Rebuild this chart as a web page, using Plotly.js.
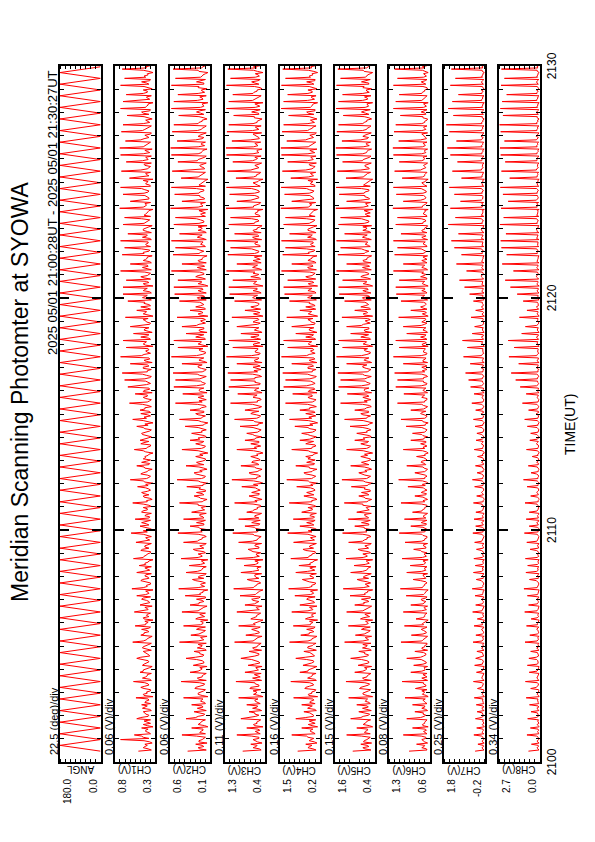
<!DOCTYPE html>
<html>
<head>
<meta charset="utf-8">
<script src="https://cdn.plot.ly/plotly-3.0.1.min.js"></script>
<style>
  html, body { margin: 0; padding: 0; background: #fff; width: 595px; height: 842px; overflow: hidden; }
  /* the chart is laid out as a landscape sheet and turned a quarter turn counter-clockwise */
  #chart { position: absolute; left: 0; top: 0; width: 842px; height: 595px;
           transform-origin: 0 0; transform: translate(0, 842px) rotate(-90deg); }
</style>
</head>
<body>
<div id="chart"></div>
<script>
// ---- sampling: first record 21:00:28 UT ----
const T0_SEC = 28;          // seconds after 21:00 UT
const CH_STEP_SEC = 6;      // interval of the scan-synchronous samples
const MID_OFFSET_SEC = 3;   // in-between samples fall halfway
const ANGL_STEP_SEC = 15;   // scan turning points

// ---- panel setup ----
const panelNames = ['ANGL', 'CH1(V)', 'CH2(V)', 'CH3(V)', 'CH4(V)', 'CH5(V)', 'CH6(V)', 'CH7(V)', 'CH8(V)'];
const axisMin = [0.0, 0.3, 0.1, 0.4, 0.2, 0.4, 0.6, -0.2, 0.0];
const axisMax = [180.0, 0.8, 0.6, 1.3, 1.5, 1.6, 1.3, 1.8, 2.7];
const minLabels = ['0.0', '0.3', '0.1', '0.4', '0.2', '0.4', '0.6', '-0.2', '0.0'];
const maxLabels = ['180.0', '0.8', '0.6', '1.3', '1.5', '1.6', '1.3', '1.8', '2.7'];
const perDivLabels = ['22.5 (deg)/div', '0.06 (V)/div', '0.06 (V)/div', '0.11 (V)/div', '0.16 (V)/div',
                      '0.15 (V)/div', '0.08 (V)/div', '0.25 (V)/div', '0.34 (V)/div'];
const timeTicks = [0, 10, 20, 30];
const timeTickLabels = ['2100', '2110', '2120', '2130'];
const titleText = 'Meridian Scanning Photomter at SYOWA';
const periodText = '2025 05/01 21:00:28UT - 2025 05/01 21:30:27UT';
const timeAxisTitle = 'TIME(UT)';

// ---- scanner angle (deg) at turning points ----
const ANGL = [0,180,0,180,0,180,0,180,0,180,0,180,0,180,0,180,0,180,0,180,
  0,180,0,180,0,180,0,180,0,180,0,180,0,180,0,180,0,180,0,180,
  0,180,0,180,0,180,0,180,0,180,0,180,0,180,0,180,0,180,0,180,
  0,180,0,180,0,180,0,180,0,180,0,180,0,180,0,180,0,180,0,180,
  0,180,0,180,0,180,0,180,0,180,0,180,0,180,0,180,0,180,0,180,
  0,180,0,180,0,180,0,180,0,180,0,180,0,180,0,180,0,180,0];

// ---- channel outputs (V), scan-synchronous samples, one row = 2 min ----
const CH1 = [
.51,.39,.43,.43,.37,.73,.45,.56,.38,.42,.47,.40,.36,.44,.53,.39,.42,.45,.37,.43,
.47,.43,.38,.54,.44,.40,.36,.44,.43,.39,.57,.37,.42,.40,.49,.45,.37,.46,.41,.39,
.53,.37,.41,.45,.40,.45,.38,.58,.41,.37,.48,.44,.40,.38,.55,.42,.43,.44,.38,.40,
.56,.39,.43,.49,.37,.41,.45,.53,.38,.42,.59,.40,.36,.44,.46,.39,.42,.53,.37,.43,
.50,.43,.38,.57,.44,.40,.36,.46,.43,.39,.54,.37,.42,.40,.60,.45,.37,.49,.41,.39,
.55,.37,.41,.47,.40,.45,.38,.58,.41,.37,.45,.44,.40,.38,.52,.42,.43,.61,.38,.40,
.45,.39,.43,.53,.37,.41,.45,.43,.38,.42,.56,.40,.36,.44,.49,.39,.42,.47,.37,.43,
.53,.43,.38,.58,.44,.40,.36,.49,.43,.39,.62,.37,.42,.40,.55,.45,.37,.64,.41,.39,
.68,.37,.41,.71,.40,.45,.38,.61,.41,.37,.73,.44,.40,.38,.66,.42,.43,.70,.38,.40,
.57,.39,.43,.61,.37,.41,.45,.67,.38,.42,.53,.40,.36,.44,.64,.39,.42,.70,.37,.43,
.70,.43,.38,.66,.44,.40,.36,.73,.43,.39,.61,.37,.42,.40,.71,.45,.37,.68,.41,.39,
.73,.37,.41,.64,.40,.45,.38,.70,.41,.37,.68,.44,.40,.38,.74,.42,.43,.61,.38,.40,
.70,.39,.43,.73,.37,.41,.45,.62,.38,.42,.72,.40,.36,.44,.66,.39,.42,.73,.37,.43,
.74,.43,.38,.67,.44,.40,.36,.72,.43,.39,.70,.37,.42,.40,.65,.45,.37,.73,.41,.39,
.70,.37,.41,.66,.40,.45,.38,.73,.41,.37,.68,.44,.40,.38,.71,.42];
const CH2 = [
.38,.23,.18,.28,.24,.20,.16,.45,.23,.19,.33,.17,.22,.20,.40,.25,.17,.30,.21,.19,
.33,.17,.21,.43,.20,.25,.18,.29,.21,.17,.46,.24,.20,.18,.35,.22,.23,.31,.18,.20,
.40,.19,.23,.30,.17,.21,.25,.48,.18,.22,.34,.20,.16,.24,.43,.19,.22,.28,.17,.23,
.45,.23,.18,.35,.24,.20,.16,.41,.23,.19,.49,.17,.22,.20,.32,.25,.17,.40,.21,.19,
.36,.17,.21,.46,.20,.25,.18,.31,.21,.17,.43,.24,.20,.18,.50,.22,.23,.35,.18,.20,
.43,.19,.23,.33,.17,.21,.25,.48,.18,.22,.30,.20,.16,.24,.39,.19,.22,.51,.17,.23,
.30,.23,.18,.40,.24,.20,.16,.28,.23,.19,.45,.17,.22,.20,.35,.25,.17,.33,.21,.19,
.41,.17,.21,.48,.20,.25,.18,.35,.21,.17,.53,.24,.20,.18,.44,.22,.23,.55,.18,.20,
.53,.19,.23,.56,.17,.21,.25,.45,.18,.22,.58,.20,.16,.24,.50,.19,.22,.55,.17,.23,
.40,.23,.18,.45,.24,.20,.16,.51,.23,.19,.35,.17,.22,.20,.48,.25,.17,.54,.21,.19,
.55,.17,.21,.50,.20,.25,.18,.58,.21,.17,.45,.24,.20,.18,.56,.22,.23,.53,.18,.20,
.58,.19,.23,.48,.17,.21,.25,.55,.18,.22,.53,.20,.16,.24,.59,.19,.22,.45,.17,.23,
.54,.23,.18,.58,.24,.20,.16,.46,.23,.19,.57,.17,.22,.20,.50,.25,.17,.58,.21,.19,
.59,.17,.21,.51,.20,.25,.18,.57,.21,.17,.55,.24,.20,.18,.49,.22,.23,.58,.18,.20,
.55,.19,.23,.50,.17,.21,.25,.58,.18,.22,.53,.20,.16,.24,.56,.19];
const CH3 = [
.90,.53,.60,.72,.57,.67,.54,1.03,.59,.52,.81,.64,.58,.54,.94,.61,.63,.76,.54,.58,
.81,.56,.63,.99,.53,.60,.67,.74,.54,.62,1.05,.58,.51,.64,.85,.55,.61,.78,.52,.63,
.94,.63,.54,.76,.65,.58,.51,1.08,.63,.56,.83,.53,.62,.57,.99,.66,.52,.72,.59,.55,
1.03,.53,.60,.85,.57,.67,.54,.96,.59,.52,1.10,.64,.58,.54,.80,.61,.63,.94,.54,.58,
.87,.56,.63,1.05,.53,.60,.67,.78,.54,.62,.99,.58,.51,.64,1.12,.55,.61,.85,.52,.63,
.99,.63,.54,.81,.65,.58,.51,1.08,.63,.56,.76,.53,.62,.57,.92,.66,.52,1.14,.59,.55,
.76,.53,.60,.94,.57,.67,.54,.72,.59,.52,1.03,.64,.58,.54,.85,.61,.63,.81,.54,.58,
.96,.56,.63,1.08,.53,.60,.67,.85,.54,.62,1.17,.58,.51,.64,1.01,.55,.61,1.21,.52,.63,
1.17,.63,.54,1.23,.65,.58,.51,1.03,.63,.56,1.26,.53,.62,.57,1.12,.66,.52,1.21,.59,.55,
.94,.53,.60,1.03,.57,.67,.54,1.14,.59,.52,.85,.64,.58,.54,1.08,.61,.63,1.19,.54,.58,
1.21,.56,.63,1.12,.53,.60,.67,1.26,.54,.62,1.03,.58,.51,.64,1.23,.55,.61,1.17,.52,.63,
1.26,.63,.54,1.08,.65,.58,.51,1.21,.63,.56,1.17,.53,.62,.57,1.27,.66,.52,1.03,.59,.55,
1.19,.53,.60,1.26,.57,.67,.54,1.05,.59,.52,1.24,.64,.58,.54,1.12,.61,.63,1.26,.54,.58,
1.27,.56,.63,1.14,.53,.60,.67,1.25,.54,.62,1.21,.58,.51,.64,1.10,.55,.61,1.26,.52,.63,
1.21,.63,.54,1.12,.65,.58,.51,1.26,.63,.56,1.17,.53,.62,.57,1.23,.66];
const CH4 = [
.92,.43,.54,.66,.38,.49,.59,1.11,.41,.51,.79,.46,.36,.55,.98,.42,.50,.72,.37,.53,
.79,.53,.40,1.05,.56,.46,.36,.69,.54,.43,1.14,.38,.51,.45,.85,.58,.37,.75,.47,.42,
.98,.38,.49,.72,.45,.59,.41,1.18,.47,.37,.82,.55,.46,.40,1.06,.50,.54,.67,.41,.46,
1.11,.43,.54,.85,.38,.49,.59,1.01,.41,.51,1.21,.46,.36,.55,.77,.42,.50,.98,.37,.53,
.88,.53,.40,1.14,.56,.46,.36,.75,.54,.43,1.05,.38,.51,.45,1.24,.58,.37,.85,.47,.42,
1.06,.38,.49,.79,.45,.59,.41,1.19,.47,.37,.72,.55,.46,.40,.95,.50,.54,1.27,.41,.46,
.72,.43,.54,.98,.38,.49,.59,.66,.41,.51,1.11,.46,.36,.55,.85,.42,.50,.79,.37,.53,
1.01,.53,.40,1.18,.56,.46,.36,.85,.54,.43,1.31,.38,.51,.45,1.08,.58,.37,1.37,.47,.42,
1.31,.38,.49,1.40,.45,.59,.41,1.11,.47,.37,1.44,.55,.46,.40,1.24,.50,.54,1.37,.41,.46,
.98,.43,.54,1.11,.38,.49,.59,1.27,.41,.51,.85,.46,.36,.55,1.18,.42,.50,1.34,.37,.53,
1.37,.53,.40,1.24,.56,.46,.36,1.44,.54,.43,1.11,.38,.51,.45,1.40,.58,.37,1.31,.47,.42,
1.44,.38,.49,1.18,.45,.59,.41,1.37,.47,.37,1.31,.55,.46,.40,1.46,.50,.54,1.11,.41,.46,
1.34,.43,.54,1.45,.38,.49,.59,1.14,.41,.51,1.41,.46,.36,.55,1.24,.42,.50,1.44,.37,.53,
1.46,.53,.40,1.27,.56,.46,.36,1.42,.54,.43,1.37,.38,.51,.45,1.21,.58,.37,1.45,.47,.42,
1.37,.38,.49,1.24,.45,.59,.41,1.44,.47,.37,1.31,.55,.46,.40,1.40,.50];
const CH5 = [
1.06,.70,.58,.82,.74,.64,.54,1.24,.71,.62,.94,.57,.69,.63,1.12,.75,.56,.88,.65,.60,
.94,.57,.66,1.18,.63,.76,.59,.86,.65,.56,1.26,.72,.64,.58,1.00,.68,.71,.90,.59,.64,
1.12,.62,.71,.88,.57,.66,.76,1.30,.59,.69,.98,.64,.54,.72,1.19,.60,.68,.83,.56,.70,
1.24,.70,.58,1.00,.74,.64,.54,1.14,.71,.62,1.34,.57,.69,.63,.93,.75,.56,1.12,.65,.60,
1.02,.57,.66,1.26,.63,.76,.59,.90,.65,.56,1.18,.72,.64,.58,1.36,.68,.71,1.00,.59,.64,
1.19,.62,.71,.94,.57,.66,.76,1.31,.59,.69,.88,.64,.54,.72,1.10,.60,.68,1.38,.56,.70,
.88,.70,.58,1.12,.74,.64,.54,.82,.71,.62,1.24,.57,.69,.63,1.00,.75,.56,.94,.65,.60,
1.14,.57,.66,1.30,.63,.76,.59,1.00,.65,.56,1.42,.72,.64,.58,1.22,.68,.71,1.48,.59,.64,
1.42,.62,.71,1.50,.57,.66,.76,1.24,.59,.69,1.54,.64,.54,.72,1.36,.60,.68,1.48,.56,.70,
1.12,.70,.58,1.24,.74,.64,.54,1.38,.71,.62,1.00,.57,.69,.63,1.30,.75,.56,1.46,.65,.60,
1.48,.57,.66,1.36,.63,.76,.59,1.54,.65,.56,1.24,.72,.64,.58,1.50,.68,.71,1.42,.59,.64,
1.54,.62,.71,1.30,.57,.66,.76,1.48,.59,.69,1.42,.64,.54,.72,1.56,.60,.68,1.24,.56,.70,
1.46,.70,.58,1.55,.74,.64,.54,1.26,.71,.62,1.52,.57,.69,.63,1.36,.75,.56,1.54,.65,.60,
1.56,.57,.66,1.38,.63,.76,.59,1.53,.65,.56,1.48,.72,.64,.58,1.34,.68,.71,1.55,.59,.64,
1.48,.62,.71,1.36,.57,.66,.76,1.54,.59,.69,1.42,.64,.54,.72,1.50,.60];
const CH6 = [
.96,.66,.70,.83,.69,.74,.67,1.06,.69,.66,.90,.72,.69,.67,1.00,.70,.72,.86,.67,.69,
.90,.68,.72,1.03,.66,.70,.74,.85,.67,.71,1.08,.69,.65,.72,.93,.68,.70,.88,.66,.71,
1.00,.71,.67,.86,.73,.69,.65,1.10,.72,.68,.92,.66,.71,.69,1.04,.73,.66,.84,.69,.68,
1.06,.66,.70,.93,.69,.74,.67,1.01,.69,.66,1.11,.72,.69,.67,.89,.70,.72,1.00,.67,.69,
.94,.68,.72,1.08,.66,.70,.74,.88,.67,.71,1.03,.69,.65,.72,1.13,.68,.70,.93,.66,.71,
1.04,.71,.67,.90,.73,.69,.65,1.10,.72,.68,.86,.66,.71,.69,.98,.73,.66,1.14,.69,.68,
.86,.66,.70,1.00,.69,.74,.67,.83,.69,.66,1.06,.72,.69,.67,.93,.70,.72,.90,.67,.69,
1.01,.68,.72,1.10,.66,.70,.74,.93,.67,.71,1.16,.69,.65,.72,1.05,.68,.70,1.19,.66,.71,
1.16,.71,.67,1.21,.73,.69,.65,1.06,.72,.68,1.23,.66,.71,.69,1.13,.73,.66,1.19,.69,.68,
1.00,.66,.70,1.06,.69,.74,.67,1.14,.69,.66,.93,.72,.69,.67,1.10,.70,.72,1.18,.67,.69,
1.19,.68,.72,1.13,.66,.70,.74,1.23,.67,.71,1.06,.69,.65,.72,1.21,.68,.70,1.16,.66,.71,
1.23,.71,.67,1.10,.73,.69,.65,1.19,.72,.68,1.16,.66,.71,.69,1.24,.73,.66,1.06,.69,.68,
1.18,.66,.70,1.23,.69,.74,.67,1.08,.69,.66,1.21,.72,.69,.67,1.13,.70,.72,1.23,.67,.69,
1.24,.68,.72,1.14,.66,.70,.74,1.22,.67,.71,1.19,.69,.65,.72,1.11,.68,.70,1.23,.66,.71,
1.19,.71,.67,1.13,.73,.69,.65,1.23,.72,.68,1.16,.66,.71,.69,1.21,.73];
const CH7 = [
0.28,-0.1,-0.14,0.14,-0.08,-0.15,-0.11,0.34,-0.07,-0.13,0.2,-0.1,-0.16,-0.09,0.26,-0.12,-0.08,0.18,-0.11,-0.15,
0.22,-0.12,-0.09,0.32,-0.14,-0.1,-0.15,0.16,-0.08,-0.13,0.36,-0.11,-0.07,-0.14,0.21,-0.1,-0.15,0.3,-0.09,-0.12,
0.25,-0.14,-0.1,0.19,-0.08,-0.13,-0.11,0.38,-0.12,-0.09,0.24,-0.15,-0.1,-0.13,0.33,-0.07,-0.12,0.17,-0.14,-0.1,
0.4,-0.09,-0.15,0.25,-0.12,-0.08,-0.14,0.28,-0.1,-0.13,0.42,-0.11,-0.15,-0.09,0.22,-0.13,-0.1,0.36,-0.12,-0.08,
0.27,-0.13,-0.1,0.34,-0.15,-0.09,-0.12,0.21,-0.14,-0.1,0.3,-0.08,-0.13,-0.11,0.39,-0.1,-0.15,0.25,-0.09,-0.13,
0.33,-0.11,-0.14,0.24,-0.1,-0.13,-0.08,0.36,-0.12,-0.15,0.2,-0.1,-0.09,-0.14,0.3,-0.11,-0.13,0.41,-0.1,-0.12,
0.18,-0.12,-0.09,0.26,-0.14,-0.11,-0.13,0.16,-0.08,-0.15,0.32,-0.1,-0.12,-0.09,0.23,-0.14,-0.1,0.19,-0.13,-0.11,
0.28,-0.1,-0.13,0.36,-0.12,-0.08,-0.14,0.25,-0.11,-0.1,0.44,-0.13,-0.09,-0.12,0.33,-0.1,-0.14,0.5,-0.11,-0.09,
0.6,-0.08,-0.12,0.75,-0.1,-0.05,-0.13,0.52,-0.09,-0.12,0.85,-0.07,-0.11,-0.1,0.66,-0.12,-0.06,0.9,-0.1,-0.13,
0.42,-0.11,-0.08,0.3,-0.13,-0.1,-0.12,0.48,-0.09,-0.14,0.25,-0.1,-0.12,-0.08,0.36,-0.13,-0.1,0.55,-0.07,-0.12,
0.8,-0.06,-0.11,1.05,-0.09,-0.03,-0.12,0.7,-0.08,-0.1,1.2,-0.05,-0.09,-0.11,0.95,-0.07,-0.1,1.3,-0.06,-0.12,
1.45,-0.04,-0.1,1.1,-0.08,-0.02,-0.11,1.6,-0.06,-0.09,1.25,-0.03,-0.1,-0.08,1.5,-0.07,-0.05,1.0,-0.09,-0.11,
1.3,-0.05,-0.09,1.55,-0.07,-0.02,-0.1,0.95,-0.06,-0.11,1.4,-0.04,-0.08,-0.1,1.15,-0.06,-0.09,1.5,-0.05,-0.1,
1.65,-0.03,-0.1,1.2,-0.06,-0.01,-0.09,1.55,-0.05,-0.08,1.7,-0.04,-0.1,-0.07,1.35,-0.05,-0.09,1.6,-0.06,-0.1,
1.4,-0.05,-0.08,1.1,-0.07,-0.03,-0.1,1.5,-0.06,-0.09,1.25,-0.04,-0.1,-0.08,1.45,-0.06];
const CH8 = [
0.75,0.12,0.08,0.55,0.15,0.06,0.1,0.85,0.13,0.07,0.62,0.1,0.05,0.14,0.8,0.09,0.12,0.58,0.11,0.06,
0.68,0.1,0.14,0.9,0.07,0.12,0.05,0.6,0.13,0.09,0.95,0.11,0.15,0.06,0.7,0.12,0.08,0.82,0.1,0.13,
0.72,0.08,0.12,0.6,0.14,0.07,0.11,0.98,0.09,0.13,0.66,0.06,0.1,0.12,0.88,0.15,0.09,0.57,0.07,0.11,
1.0,0.12,0.06,0.74,0.1,0.14,0.08,0.82,0.11,0.07,1.05,0.13,0.06,0.12,0.68,0.09,0.11,0.92,0.1,0.14,
0.8,0.07,0.11,0.95,0.06,0.13,0.1,0.64,0.08,0.12,0.86,0.14,0.09,0.1,1.02,0.12,0.06,0.7,0.13,0.08,
0.9,0.11,0.07,0.7,0.12,0.09,0.14,0.98,0.1,0.06,0.6,0.11,0.13,0.08,0.84,0.1,0.09,1.08,0.12,0.1,
0.58,0.09,0.12,0.76,0.07,0.1,0.08,0.5,0.13,0.06,0.88,0.1,0.11,0.14,0.66,0.08,0.12,0.6,0.09,0.11,
0.82,0.12,0.08,1.0,0.1,0.14,0.07,0.74,0.11,0.13,1.15,0.09,0.12,0.1,0.9,0.13,0.08,1.3,0.11,0.14,
1.6,0.15,0.1,1.9,0.12,0.18,0.11,1.4,0.14,0.09,2.05,0.16,0.12,0.1,1.7,0.13,0.17,2.1,0.12,0.1,
1.2,0.1,0.14,0.95,0.11,0.08,0.13,1.35,0.1,0.12,0.85,0.14,0.09,0.11,1.1,0.12,0.1,1.5,0.13,0.09,
1.95,0.16,0.12,2.3,0.14,0.2,0.11,1.75,0.15,0.12,2.5,0.18,0.13,0.1,2.2,0.16,0.12,2.55,0.14,0.11,
2.6,0.2,0.14,2.25,0.17,0.22,0.13,2.65,0.18,0.15,2.4,0.21,0.14,0.16,2.58,0.19,0.2,2.1,0.15,0.13,
2.45,0.18,0.13,2.62,0.16,0.21,0.12,2.0,0.17,0.14,2.55,0.2,0.15,0.13,2.3,0.18,0.14,2.6,0.17,0.12,
2.65,0.21,0.15,2.35,0.18,0.23,0.14,2.6,0.19,0.16,2.68,0.2,0.15,0.17,2.45,0.19,0.14,2.62,0.18,0.13,
2.5,0.19,0.14,2.2,0.17,0.21,0.12,2.58,0.18,0.15,2.35,0.2,0.13,0.16,2.55,0.18];

// ---- in-between samples (V), background level between scan peaks ----
const CH1_MID = [
.35,.45,.40,.34,.44,.38,.47,.36,.42,.39,.33,.45,.41,.36,.48,.38,.43,.35,.46,.40,
.36,.42,.39,.33,.45,.41,.36,.48,.38,.43,.35,.46,.40,.35,.45,.40,.34,.44,.38,.47,
.48,.38,.43,.35,.46,.40,.35,.45,.40,.34,.44,.38,.47,.36,.42,.39,.33,.45,.41,.36,
.45,.40,.34,.44,.38,.47,.36,.42,.39,.33,.45,.41,.36,.48,.38,.43,.35,.46,.40,.35,
.42,.39,.33,.45,.41,.36,.48,.38,.43,.35,.46,.40,.35,.45,.40,.34,.44,.38,.47,.36,
.38,.43,.35,.46,.40,.35,.45,.40,.34,.44,.38,.47,.36,.42,.39,.33,.45,.41,.36,.48,
.40,.34,.44,.38,.47,.36,.42,.39,.33,.45,.41,.36,.48,.38,.43,.35,.46,.40,.35,.45,
.39,.33,.45,.41,.36,.48,.38,.43,.35,.46,.40,.35,.45,.40,.34,.44,.38,.47,.36,.42,
.43,.35,.46,.40,.35,.45,.40,.34,.44,.38,.47,.36,.42,.39,.33,.45,.41,.36,.48,.38,
.34,.44,.38,.47,.36,.42,.39,.33,.45,.41,.36,.48,.38,.43,.35,.46,.40,.35,.45,.40,
.33,.45,.41,.36,.48,.38,.43,.35,.46,.40,.35,.45,.40,.34,.44,.38,.47,.36,.42,.39,
.35,.46,.40,.35,.45,.40,.34,.44,.38,.47,.36,.42,.39,.33,.45,.41,.36,.48,.38,.43,
.44,.38,.47,.36,.42,.39,.33,.45,.41,.36,.48,.38,.43,.35,.46,.40,.35,.45,.40,.34,
.45,.41,.36,.48,.38,.43,.35,.46,.40,.35,.45,.40,.34,.44,.38,.47,.36,.42,.39,.33,
.46,.40,.35,.45,.40,.34,.44,.38,.47,.36,.42,.39,.33,.45,.41,.36];
const CH2_MID = [
.15,.25,.20,.14,.24,.18,.27,.16,.22,.19,.13,.25,.21,.16,.28,.18,.23,.15,.26,.20,
.16,.22,.19,.13,.25,.21,.16,.28,.18,.23,.15,.26,.20,.15,.25,.20,.14,.24,.18,.27,
.28,.18,.23,.15,.26,.20,.15,.25,.20,.14,.24,.18,.27,.16,.22,.19,.13,.25,.21,.16,
.25,.20,.14,.24,.18,.27,.16,.22,.19,.13,.25,.21,.16,.28,.18,.23,.15,.26,.20,.15,
.22,.19,.13,.25,.21,.16,.28,.18,.23,.15,.26,.20,.15,.25,.20,.14,.24,.18,.27,.16,
.18,.23,.15,.26,.20,.15,.25,.20,.14,.24,.18,.27,.16,.22,.19,.13,.25,.21,.16,.28,
.20,.14,.24,.18,.27,.16,.22,.19,.13,.25,.21,.16,.28,.18,.23,.15,.26,.20,.15,.25,
.19,.13,.25,.21,.16,.28,.18,.23,.15,.26,.20,.15,.25,.20,.14,.24,.18,.27,.16,.22,
.23,.15,.26,.20,.15,.25,.20,.14,.24,.18,.27,.16,.22,.19,.13,.25,.21,.16,.28,.18,
.14,.24,.18,.27,.16,.22,.19,.13,.25,.21,.16,.28,.18,.23,.15,.26,.20,.15,.25,.20,
.13,.25,.21,.16,.28,.18,.23,.15,.26,.20,.15,.25,.20,.14,.24,.18,.27,.16,.22,.19,
.15,.26,.20,.15,.25,.20,.14,.24,.18,.27,.16,.22,.19,.13,.25,.21,.16,.28,.18,.23,
.24,.18,.27,.16,.22,.19,.13,.25,.21,.16,.28,.18,.23,.15,.26,.20,.15,.25,.20,.14,
.25,.21,.16,.28,.18,.23,.15,.26,.20,.15,.25,.20,.14,.24,.18,.27,.16,.22,.19,.13,
.26,.20,.15,.25,.20,.14,.24,.18,.27,.16,.22,.19,.13,.25,.21,.16];
const CH3_MID = [
.49,.67,.58,.47,.64,.54,.70,.51,.62,.56,.45,.66,.59,.50,.72,.54,.63,.48,.68,.57,
.51,.62,.56,.45,.66,.59,.50,.72,.54,.63,.48,.68,.57,.49,.67,.58,.47,.64,.54,.70,
.72,.54,.63,.48,.68,.57,.49,.67,.58,.47,.64,.54,.70,.51,.62,.56,.45,.66,.59,.50,
.67,.58,.47,.64,.54,.70,.51,.62,.56,.45,.66,.59,.50,.72,.54,.63,.48,.68,.57,.49,
.62,.56,.45,.66,.59,.50,.72,.54,.63,.48,.68,.57,.49,.67,.58,.47,.64,.54,.70,.51,
.54,.63,.48,.68,.57,.49,.67,.58,.47,.64,.54,.70,.51,.62,.56,.45,.66,.59,.50,.72,
.58,.47,.64,.54,.70,.51,.62,.56,.45,.66,.59,.50,.72,.54,.63,.48,.68,.57,.49,.67,
.56,.45,.66,.59,.50,.72,.54,.63,.48,.68,.57,.49,.67,.58,.47,.64,.54,.70,.51,.62,
.63,.48,.68,.57,.49,.67,.58,.47,.64,.54,.70,.51,.62,.56,.45,.66,.59,.50,.72,.54,
.47,.64,.54,.70,.51,.62,.56,.45,.66,.59,.50,.72,.54,.63,.48,.68,.57,.49,.67,.58,
.45,.66,.59,.50,.72,.54,.63,.48,.68,.57,.49,.67,.58,.47,.64,.54,.70,.51,.62,.56,
.48,.68,.57,.49,.67,.58,.47,.64,.54,.70,.51,.62,.56,.45,.66,.59,.50,.72,.54,.63,
.64,.54,.70,.51,.62,.56,.45,.66,.59,.50,.72,.54,.63,.48,.68,.57,.49,.67,.58,.47,
.66,.59,.50,.72,.54,.63,.48,.68,.57,.49,.67,.58,.47,.64,.54,.70,.51,.62,.56,.45,
.68,.57,.49,.67,.58,.47,.64,.54,.70,.51,.62,.56,.45,.66,.59,.50];
const CH4_MID = [
.33,.59,.46,.30,.55,.40,.63,.36,.51,.43,.28,.58,.47,.34,.66,.41,.53,.32,.60,.45,
.36,.51,.43,.28,.58,.47,.34,.66,.41,.53,.32,.60,.45,.33,.59,.46,.30,.55,.40,.63,
.66,.41,.53,.32,.60,.45,.33,.59,.46,.30,.55,.40,.63,.36,.51,.43,.28,.58,.47,.34,
.59,.46,.30,.55,.40,.63,.36,.51,.43,.28,.58,.47,.34,.66,.41,.53,.32,.60,.45,.33,
.51,.43,.28,.58,.47,.34,.66,.41,.53,.32,.60,.45,.33,.59,.46,.30,.55,.40,.63,.36,
.41,.53,.32,.60,.45,.33,.59,.46,.30,.55,.40,.63,.36,.51,.43,.28,.58,.47,.34,.66,
.46,.30,.55,.40,.63,.36,.51,.43,.28,.58,.47,.34,.66,.41,.53,.32,.60,.45,.33,.59,
.43,.28,.58,.47,.34,.66,.41,.53,.32,.60,.45,.33,.59,.46,.30,.55,.40,.63,.36,.51,
.53,.32,.60,.45,.33,.59,.46,.30,.55,.40,.63,.36,.51,.43,.28,.58,.47,.34,.66,.41,
.30,.55,.40,.63,.36,.51,.43,.28,.58,.47,.34,.66,.41,.53,.32,.60,.45,.33,.59,.46,
.28,.58,.47,.34,.66,.41,.53,.32,.60,.45,.33,.59,.46,.30,.55,.40,.63,.36,.51,.43,
.32,.60,.45,.33,.59,.46,.30,.55,.40,.63,.36,.51,.43,.28,.58,.47,.34,.66,.41,.53,
.55,.40,.63,.36,.51,.43,.28,.58,.47,.34,.66,.41,.53,.32,.60,.45,.33,.59,.46,.30,
.58,.47,.34,.66,.41,.53,.32,.60,.45,.33,.59,.46,.30,.55,.40,.63,.36,.51,.43,.28,
.60,.45,.33,.59,.46,.30,.55,.40,.63,.36,.51,.43,.28,.58,.47,.34];
const CH5_MID = [
.52,.76,.64,.50,.72,.58,.80,.54,.69,.62,.47,.75,.65,.53,.82,.59,.70,.51,.77,.63,
.54,.69,.62,.47,.75,.65,.53,.82,.59,.70,.51,.77,.63,.52,.76,.64,.50,.72,.58,.80,
.82,.59,.70,.51,.77,.63,.52,.76,.64,.50,.72,.58,.80,.54,.69,.62,.47,.75,.65,.53,
.76,.64,.50,.72,.58,.80,.54,.69,.62,.47,.75,.65,.53,.82,.59,.70,.51,.77,.63,.52,
.69,.62,.47,.75,.65,.53,.82,.59,.70,.51,.77,.63,.52,.76,.64,.50,.72,.58,.80,.54,
.59,.70,.51,.77,.63,.52,.76,.64,.50,.72,.58,.80,.54,.69,.62,.47,.75,.65,.53,.82,
.64,.50,.72,.58,.80,.54,.69,.62,.47,.75,.65,.53,.82,.59,.70,.51,.77,.63,.52,.76,
.62,.47,.75,.65,.53,.82,.59,.70,.51,.77,.63,.52,.76,.64,.50,.72,.58,.80,.54,.69,
.70,.51,.77,.63,.52,.76,.64,.50,.72,.58,.80,.54,.69,.62,.47,.75,.65,.53,.82,.59,
.50,.72,.58,.80,.54,.69,.62,.47,.75,.65,.53,.82,.59,.70,.51,.77,.63,.52,.76,.64,
.47,.75,.65,.53,.82,.59,.70,.51,.77,.63,.52,.76,.64,.50,.72,.58,.80,.54,.69,.62,
.51,.77,.63,.52,.76,.64,.50,.72,.58,.80,.54,.69,.62,.47,.75,.65,.53,.82,.59,.70,
.72,.58,.80,.54,.69,.62,.47,.75,.65,.53,.82,.59,.70,.51,.77,.63,.52,.76,.64,.50,
.75,.65,.53,.82,.59,.70,.51,.77,.63,.52,.76,.64,.50,.72,.58,.80,.54,.69,.62,.47,
.77,.63,.52,.76,.64,.50,.72,.58,.80,.54,.69,.62,.47,.75,.65,.53];
const CH6_MID = [
.65,.74,.69,.64,.72,.67,.75,.65,.71,.68,.63,.73,.69,.65,.76,.67,.71,.64,.74,.69,
.65,.71,.68,.63,.73,.69,.65,.76,.67,.71,.64,.74,.69,.65,.74,.69,.64,.72,.67,.75,
.76,.67,.71,.64,.74,.69,.65,.74,.69,.64,.72,.67,.75,.65,.71,.68,.63,.73,.69,.65,
.74,.69,.64,.72,.67,.75,.65,.71,.68,.63,.73,.69,.65,.76,.67,.71,.64,.74,.69,.65,
.71,.68,.63,.73,.69,.65,.76,.67,.71,.64,.74,.69,.65,.74,.69,.64,.72,.67,.75,.65,
.67,.71,.64,.74,.69,.65,.74,.69,.64,.72,.67,.75,.65,.71,.68,.63,.73,.69,.65,.76,
.69,.64,.72,.67,.75,.65,.71,.68,.63,.73,.69,.65,.76,.67,.71,.64,.74,.69,.65,.74,
.68,.63,.73,.69,.65,.76,.67,.71,.64,.74,.69,.65,.74,.69,.64,.72,.67,.75,.65,.71,
.71,.64,.74,.69,.65,.74,.69,.64,.72,.67,.75,.65,.71,.68,.63,.73,.69,.65,.76,.67,
.64,.72,.67,.75,.65,.71,.68,.63,.73,.69,.65,.76,.67,.71,.64,.74,.69,.65,.74,.69,
.63,.73,.69,.65,.76,.67,.71,.64,.74,.69,.65,.74,.69,.64,.72,.67,.75,.65,.71,.68,
.64,.74,.69,.65,.74,.69,.64,.72,.67,.75,.65,.71,.68,.63,.73,.69,.65,.76,.67,.71,
.72,.67,.75,.65,.71,.68,.63,.73,.69,.65,.76,.67,.71,.64,.74,.69,.65,.74,.69,.64,
.73,.69,.65,.76,.67,.71,.64,.74,.69,.65,.74,.69,.64,.72,.67,.75,.65,.71,.68,.63,
.74,.69,.65,.74,.69,.64,.72,.67,.75,.65,.71,.68,.63,.73,.69,.65];
const CH7_MID = [
-.16,-.06,-.12,-.17,-.08,-.13,-.04,-.15,-.09,-.11,-.18,-.07,-.10,-.14,-.03,-.12,-.08,-.16,-.05,-.11,
-.15,-.09,-.11,-.18,-.07,-.10,-.14,-.03,-.12,-.08,-.16,-.05,-.11,-.16,-.06,-.12,-.17,-.08,-.13,-.04,
-.03,-.12,-.08,-.16,-.05,-.11,-.16,-.06,-.12,-.17,-.08,-.13,-.04,-.15,-.09,-.11,-.18,-.07,-.10,-.14,
-.06,-.12,-.17,-.08,-.13,-.04,-.15,-.09,-.11,-.18,-.07,-.10,-.14,-.03,-.12,-.08,-.16,-.05,-.11,-.16,
-.09,-.11,-.18,-.07,-.10,-.14,-.03,-.12,-.08,-.16,-.05,-.11,-.16,-.06,-.12,-.17,-.08,-.13,-.04,-.15,
-.12,-.08,-.16,-.05,-.11,-.16,-.06,-.12,-.17,-.08,-.13,-.04,-.15,-.09,-.11,-.18,-.07,-.10,-.14,-.03,
-.12,-.17,-.08,-.13,-.04,-.15,-.09,-.11,-.18,-.07,-.10,-.14,-.03,-.12,-.08,-.16,-.05,-.11,-.16,-.06,
-.11,-.18,-.07,-.10,-.14,-.03,-.12,-.08,-.16,-.05,-.11,-.16,-.06,-.12,-.17,-.08,-.13,-.04,-.15,-.09,
-.08,-.16,-.05,-.11,-.16,-.06,-.12,-.17,-.08,-.13,-.04,-.15,-.09,-.11,-.18,-.07,-.10,-.14,-.03,-.12,
-.17,-.08,-.13,-.04,-.15,-.09,-.11,-.18,-.07,-.10,-.14,-.03,-.12,-.08,-.16,-.05,-.11,-.16,-.06,-.12,
-.18,-.07,-.10,-.14,-.03,-.12,-.08,-.16,-.05,-.11,-.16,-.06,-.12,-.17,-.08,-.13,-.04,-.15,-.09,-.11,
-.16,-.05,-.11,-.16,-.06,-.12,-.17,-.08,-.13,-.04,-.15,-.09,-.11,-.18,-.07,-.10,-.14,-.03,-.12,-.08,
-.08,-.13,-.04,-.15,-.09,-.11,-.18,-.07,-.10,-.14,-.03,-.12,-.08,-.16,-.05,-.11,-.16,-.06,-.12,-.17,
-.07,-.10,-.14,-.03,-.12,-.08,-.16,-.05,-.11,-.16,-.06,-.12,-.17,-.08,-.13,-.04,-.15,-.09,-.11,-.18,
-.05,-.11,-.16,-.06,-.12,-.17,-.08,-.13,-.04,-.15,-.09,-.11,-.18,-.07,-.10,-.14];
const CH8_MID = [
.05,.18,.10,.04,.16,.09,.20,.06,.14,.11,.03,.17,.12,.07,.22,.09,.15,.05,.19,.11,
.06,.14,.11,.03,.17,.12,.07,.22,.09,.15,.05,.19,.11,.05,.18,.10,.04,.16,.09,.20,
.22,.09,.15,.05,.19,.11,.05,.18,.10,.04,.16,.09,.20,.06,.14,.11,.03,.17,.12,.07,
.18,.10,.04,.16,.09,.20,.06,.14,.11,.03,.17,.12,.07,.22,.09,.15,.05,.19,.11,.05,
.14,.11,.03,.17,.12,.07,.22,.09,.15,.05,.19,.11,.05,.18,.10,.04,.16,.09,.20,.06,
.09,.15,.05,.19,.11,.05,.18,.10,.04,.16,.09,.20,.06,.14,.11,.03,.17,.12,.07,.22,
.10,.04,.16,.09,.20,.06,.14,.11,.03,.17,.12,.07,.22,.09,.15,.05,.19,.11,.05,.18,
.11,.03,.17,.12,.07,.22,.09,.15,.05,.19,.11,.05,.18,.10,.04,.16,.09,.20,.06,.14,
.15,.05,.19,.11,.05,.18,.10,.04,.16,.09,.20,.06,.14,.11,.03,.17,.12,.07,.22,.09,
.04,.16,.09,.20,.06,.14,.11,.03,.17,.12,.07,.22,.09,.15,.05,.19,.11,.05,.18,.10,
.03,.17,.12,.07,.22,.09,.15,.05,.19,.11,.05,.18,.10,.04,.16,.09,.20,.06,.14,.11,
.05,.19,.11,.05,.18,.10,.04,.16,.09,.20,.06,.14,.11,.03,.17,.12,.07,.22,.09,.15,
.16,.09,.20,.06,.14,.11,.03,.17,.12,.07,.22,.09,.15,.05,.19,.11,.05,.18,.10,.04,
.17,.12,.07,.22,.09,.15,.05,.19,.11,.05,.18,.10,.04,.16,.09,.20,.06,.14,.11,.03,
.19,.11,.05,.18,.10,.04,.16,.09,.20,.06,.14,.11,.03,.17,.12,.07];

const channels = [[CH1, CH1_MID], [CH2, CH2_MID], [CH3, CH3_MID], [CH4, CH4_MID],
                  [CH5, CH5_MID], [CH6, CH6_MID], [CH7, CH7_MID], [CH8, CH8_MID]];

// ---- sample times (minutes after 21:00 UT) ----
function angleSeries(vals) {
  return { x: vals.map((_, i) => (T0_SEC + i * ANGL_STEP_SEC) / 60), y: vals };
}
// merge scan-synchronous and in-between samples in time order
function channelSeries(main, mid) {
  const x = [], y = [];
  main.forEach((v, i) => {
    x.push((T0_SEC + i * CH_STEP_SEC) / 60); y.push(v);
    if (i < mid.length) { x.push((T0_SEC + MID_OFFSET_SEC + i * CH_STEP_SEC) / 60); y.push(mid[i]); }
  });
  return { x, y };
}
const series = [angleSeries(ANGL)].concat(channels.map(([a, b]) => channelSeries(a, b)));

// ---- geometry (landscape sheet, px) ----
const W = 842, H = 595;
const M = { l: 80, r: 66, t: 60, b: 55 };
const plotW = W - M.l - M.r, plotH = H - M.t - M.b;
const PANEL_PITCH = 54.9, PANEL_H = 40.5;
const FONT = 'Liberation Sans, Arial, Helvetica, sans-serif';
const px2x = p => p / plotW;   // horizontal pixel offset from the frame, in paper units
const px2y = p => p / plotH;

const traces = [];
const layout = {
  width: W, height: H,
  margin: M,
  paper_bgcolor: '#fff', plot_bgcolor: '#fff',
  showlegend: false,
  font: { family: FONT, color: '#000', size: 10 },
  title: { text: titleText, font: { family: FONT, size: 23, color: '#000' },
           x: 450 / W, xanchor: 'center', y: 1 - 20 / H, yanchor: 'middle' },
  annotations: []
};

series.forEach((s, i) => {
  const n = i + 1;
  const xa = n === 1 ? 'x' : 'x' + n;
  const ya = n === 1 ? 'y' : 'y' + n;
  traces.push({
    type: 'scatter', mode: 'lines',
    x: s.x, y: s.y,
    xaxis: xa, yaxis: ya,
    line: { color: '#ff0000', width: 1 },
    hoverinfo: 'skip'
  });

  const top = PANEL_PITCH * i;
  const dom = [1 - px2y(top + PANEL_H), 1 - px2y(top)];
  const last = i === series.length - 1;
  const span = axisMax[i] - axisMin[i];

  const xaxis = {
    anchor: ya, range: [0, 30],
    tickmode: 'array', tickvals: timeTicks, ticktext: timeTickLabels,
    showticklabels: last, tickfont: { size: 12, family: FONT },
    ticks: 'inside', ticklen: 9, tickwidth: 1.5, tickcolor: '#000',
    minor: { dtick: 1, tick0: 0, ticks: 'inside', ticklen: 4, tickwidth: 1, tickcolor: '#000' },
    showline: true, linecolor: '#000', linewidth: 2, mirror: 'ticks',
    showgrid: false, zeroline: false
  };
  if (n > 1) xaxis.matches = 'x';
  layout['xaxis' + (n === 1 ? '' : n)] = xaxis;

  layout['yaxis' + (n === 1 ? '' : n)] = {
    anchor: xa, domain: dom, range: [axisMin[i], axisMax[i]],
    showticklabels: false, ticks: '',
    minor: { tick0: axisMin[i], dtick: span / 8, ticks: 'inside', ticklen: 3, tickwidth: 1, tickcolor: '#000' },
    showline: true, linecolor: '#000', linewidth: 2, mirror: 'ticks',
    showgrid: false, zeroline: false
  };

  // full-scale values, set just inside the ends of each frame
  layout.annotations.push({
    text: maxLabels[i], xref: 'paper', yref: ya, x: px2x(-15), y: axisMax[i],
    xanchor: 'right', yanchor: 'top', showarrow: false, font: { size: 10, family: FONT }
  });
  layout.annotations.push({
    text: minLabels[i], xref: 'paper', yref: ya, x: px2x(-15), y: axisMin[i],
    xanchor: 'right', yanchor: 'bottom', showarrow: false, font: { size: 10, family: FONT }
  });
  // channel name between the values and the frame
  layout.annotations.push({
    text: panelNames[i], xref: 'paper', yref: 'paper',
    x: px2x(-8), y: (dom[0] + dom[1]) / 2,
    xanchor: 'center', yanchor: 'middle', textangle: -90,
    showarrow: false, font: { size: 10, family: FONT }
  });
  // scale per division above each frame
  layout.annotations.push({
    text: perDivLabels[i], xref: 'paper', yref: 'paper',
    x: px2x(5), y: dom[1], xanchor: 'left', yanchor: 'bottom',
    yshift: -2, showarrow: false, font: { size: 11, family: FONT }
  });
});

// recording period, upper right
layout.annotations.push({
  text: periodText, xref: 'paper', yref: 'paper',
  x: px2x(774 - M.l), y: 1, xanchor: 'right', yanchor: 'bottom',
  yshift: -2, showarrow: false, font: { size: 13, family: FONT }
});
// time axis caption
layout.annotations.push({
  text: timeAxisTitle, xref: 'paper', yref: 'paper',
  x: px2x(417 - M.l), y: -px2y(570 - (H - M.b)), xanchor: 'center', yanchor: 'middle',
  showarrow: false, font: { size: 14, family: FONT }
});

Plotly.newPlot('chart', traces, layout, { staticPlot: true, displayModeBar: false });
</script>
</body>
</html>
